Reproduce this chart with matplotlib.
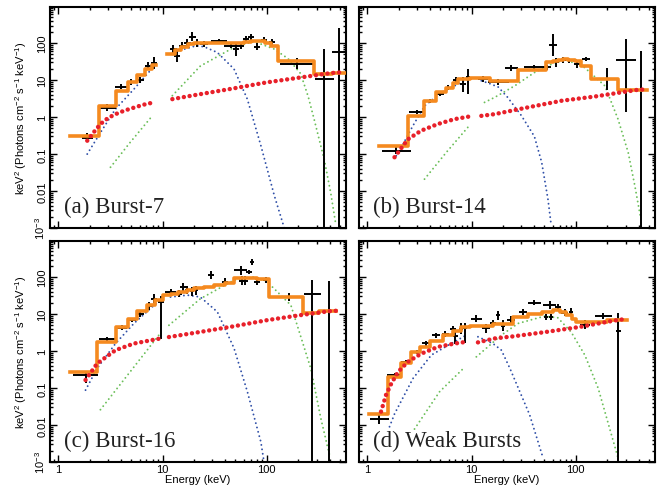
import numpy as np
import matplotlib
matplotlib.use('Agg')
import matplotlib.pyplot as plt
from matplotlib.ticker import LogLocator, NullFormatter

plt.rcParams['font.family'] = 'Liberation Sans'
plt.rcParams['mathtext.fontset'] = 'custom'
plt.rcParams['mathtext.rm'] = 'Liberation Sans'
plt.rcParams['mathtext.it'] = 'Liberation Sans'

# ---------------- (a) Burst-7 ----------------
a_edges = [1.30, 2.44, 3.53, 4.68, 5.71, 6.76, 7.96, 8.57, 11, 13, 15, 17.5, 20, 24, 30, 40,
           50, 60, 70, 80, 95, 110, 127, 282, 425, 575]
a_model = [0.31, 2.0, 5.1, 9.0, 13.7, 19.8, 25, np.nan, 52, 65, 80, 92, 100, 102, 103, 100,
           104, 108, 112, 112, 100, 85, 33, 14.5, 16]
a_e = [1.9, 2.95, 4.0, 5.0, 6.1, 7.3, 8.3, 12.7, 13.8, 15.5, 17.3, 19.3, 21.6, 25, 34.7, 45,
       50.3, 56, 63, 70, 81, 94, 113, 196, 356, 495]
a_f = [0.28, 1.8, 6.7, 8.7, 10.3, 24, 29, 70, 45, 85, 100, 150, 100, 94, 116, 85,
       69, 85, 130, 145, 80, 125, 110, 28, 11, 56]
a_dx = [0.05, 0.08, 0.06, 0.04, 0.04, 0.03, 0.03, 0.03, 0.03, 0.03, 0.03, 0.03, 0.03, 0.04, 0.08, 0.06,
        0.03, 0.03, 0.03, 0.03, 0.03, 0.03, 0.03, 0.17, 0.09, 0.07]
a_up = [0.12, 0.1, 0.06, 0.08, 0.08, 0.1, 0.15, 0.1, 0.15, 0.1, 0.12, 0.12, 0.1, 0.08, 0.06, 0.05,
        0.2, 0.08, 0.08, 0.08, 0.1, 0.08, 0.08, 0.15, 0.8, 0.65]
a_dn = [0.12, 0.1, 0.06, 0.08, 0.08, 0.1, 0.15, 0.1, 0.15, 0.1, 0.12, 0.12, 0.1, 0.08, 0.06, 0.05,
        0.2, 0.08, 0.08, 0.08, 0.1, 0.08, 0.08, 0.15, 5, 5]
a_red_e = [1.89, 2.2, 2.53, 3.0, 3.53, 4.3, 5.3, 6.5, 7.96, 12.4, 20, 48.4, 100, 211, 410, 560]
a_red_f = [0.23, 0.4, 0.65, 0.95, 1.2, 1.5, 1.8, 2.15, 2.45, 3.06, 3.9, 6.0, 8.7, 11.8, 15.5, 16.5]
a_blue_e = [1.89, 2.53, 3.53, 5.3, 8.3, 12.4, 15.3, 21, 25, 33.5, 48.4, 65, 87.6, 118, 147]
a_blue_f = [0.1, 0.38, 1.65, 5.7, 24, 50, 66, 85, 80, 56, 20, 3.06, 0.17, 0.0075, 0.001]
a_green_e = [3.16, 4.9, 7.96, 12.4, 23, 48, 75, 118, 160, 211, 250, 285, 356, 410, 460]
a_green_f = [0.044, 0.21, 1.08, 3.8, 24, 76, 112, 69, 38, 15, 3.5, 0.85, 0.07, 0.009, 0.0012]

# ---------------- (b) Burst-14 ----------------
b_edges = [1.30, 2.44, 3.48, 4.58, 5.63, 6.6, 7.4, 9.55, 14.9, 27.9, 52, 60, 67, 75, 85, 98,
           113, 141, 254, 478]
b_model = [0.168, 1.08, 2.76, 4.65, 6.3, 8.3, 10.5, 11.3, 9.6, 18.7, 30, 33, 36, 37, 36, 33,
           24.5, 10.6, 5.4]
b_e = [1.89, 2.98, 4.0, 4.93, 5.9, 7.1, 8.27, 9.2, 12.9, 18.0, 24, 40, 53, 60.5, 65, 75,
       86, 102, 126, 198, 305, 425]
b_f = [0.123, 1.39, 2.76, 4.18, 6.3, 10.2, 7.8, 11.8, 10.6, 8.7, 20.7, 22, 22, 90, 30, 35,
       34, 27, 37, 10.5, 35.5, 5.5]
b_dx = [0.137, 0.08, 0.05, 0.04, 0.03, 0.03, 0.03, 0.02, 0.05, 0.1, 0.06, 0.1, 0.04, 0.04, 0.03, 0.03,
        0.03, 0.03, 0.04, 0.08, 0.095, 0.0]
b_up = [0.1, 0.06, 0.06, 0.06, 0.07, 0.08, 0.2, 0.23, 0.08, 0.08, 0.08, 0.08, 0.08, 0.3, 0.12, 0.08,
        0.08, 0.1, 0.06, 0.3, 0.55, 1.05]
b_dn = [0.1, 0.06, 0.06, 0.06, 0.07, 0.08, 0.2, 0.45, 0.08, 0.08, 0.08, 0.08, 0.08, 0.3, 0.12, 0.08,
        0.08, 0.1, 0.06, 0.3, 1.4, 5]
b_red_e = [1.82, 2.44, 3.28, 4.75, 6.85, 9.55, 12.4, 16.6, 34.6, 72.6, 152, 397, 470]
b_red_f = [0.082, 0.25, 0.43, 0.65, 0.88, 1.04, 1.08, 1.2, 1.83, 2.76, 3.6, 5.5, 5.6]
b_blue_e = [1.89, 2.11, 2.73, 3.53, 5.1, 7.4, 9.2, 12.4, 15, 18, 22, 30, 40, 47, 54, 58]
b_blue_f = [0.09, 0.15, 0.58, 2.0, 4.6, 7.8, 10.6, 9.6, 8, 6.5, 3.5, 1.1, 0.3, 0.06, 0.006, 0.0012]
b_green_e = [3.53, 5.7, 9.2, 13.3, 16.6, 25.9, 40, 63, 81, 121, 190, 254, 318, 368, 420]
b_green_f = [0.021, 0.11, 0.53, 2.5, 3.4, 7, 16, 30, 35.5, 22, 7, 0.88, 0.11, 0.014, 0.0018]

# ---------------- (c) Burst-16 ----------------
c_edges = [1.30, 2.35, 3.53, 4.68, 5.71, 7.1, 8.4, 10.1, 12, 14, 17, 20, 25, 31, 40, 48.4,
           60, 81, 105, 220, 320, 460]
c_model = [0.277, 1.78, 4.5, 7.6, 12, 17.5, 24, 32.6, 36, 40, 45, 50, 54.5, 62, 70, 92,
           96, 88, 29.3, 10.4, 11.8]
c_e = [1.82, 2.94, 4.1, 5.1, 6.1, 7.4, 8.3, 9.6, 11.9, 14.3, 15.8, 17.3, 19, 21, 28.9, 40,
       56, 58, 62, 67, 72.6, 81, 98, 164, 273, 393]
c_f = [0.224, 2.11, 4.3, 6.9, 9.8, 16.7, 26, 21.5, 40, 36, 54, 45, 42, 44, 113, 74,
       155, 80, 80, 139, 250, 74, 83, 29, 34, 10]
c_dx = [0.12, 0.08, 0.05, 0.04, 0.04, 0.03, 0.03, 0.03, 0.05, 0.03, 0.03, 0.02, 0.02, 0.02, 0.03, 0.03,
        0.065, 0.03, 0.03, 0.03, 0.02, 0.03, 0.03, 0.04, 0.08, 0.0]
c_up = [0.1, 0.06, 0.06, 0.06, 0.08, 0.1, 0.12, 0.15, 0.08, 0.1, 0.1, 0.1, 0.12, 0.12, 0.1, 0.1,
        0.12, 0.12, 0.12, 0.06, 0.08, 0.08, 0.08, 0.12, 0.4, 0.9]
c_dn = [0.2, 0.06, 0.06, 0.06, 0.08, 0.1, 0.12, 1.0, 0.08, 0.1, 0.1, 0.1, 0.12, 0.12, 0.1, 0.1,
        0.12, 0.12, 0.12, 0.06, 0.08, 0.08, 0.08, 0.12, 5, 5]
c_red_e = [1.82, 2.35, 3.53, 5.3, 9.55, 11.5, 23, 48.4, 101.6, 211, 398, 460]
c_red_f = [0.165, 0.46, 1.06, 1.6, 2.2, 2.4, 3.3, 4.7, 6.9, 9.4, 12, 12.3]
c_blue_e = [1.82, 2.35, 3.53, 5.3, 8.3, 10.1, 11.9, 17.3, 23, 33.5, 48.4, 65, 87.6, 94]
c_blue_f = [0.088, 0.34, 1.6, 5.6, 17.5, 26, 29, 32.6, 29, 11.5, 1.2, 0.08, 0.0035, 0.001]
c_green_e = [2.53, 4.9, 9.2, 11.5, 23, 48.4, 75, 101, 170, 264, 330, 398]
c_green_f = [0.026, 0.28, 2.7, 5.0, 26, 83, 101, 74, 17.5, 0.34, 0.015, 0.0016]

# ---------------- (d) Weak Bursts ----------------
d_edges = [1.03, 1.57, 2.11, 2.63, 3.23, 3.95, 5.3, 6.6, 7.96, 9.55, 16, 25, 35, 47, 60, 70,
           80, 92, 100, 200, 307]
d_model = [0.02, 0.2, 0.49, 0.92, 1.3, 1.86, 2.7, 3.5, 4.5, 4.8, 5.5, 8.5, 10, 11.5, 12.8, 11.5,
           9.4, 7.5, 6.2, 7.0]
d_e = [1.30, 1.82, 2.36, 2.98, 3.67, 4.58, 5.6, 6.6, 7.0, 7.96, 8.7, 11.1, 13.8, 16, 17.9, 20,
       24, 31, 40, 56, 52, 58, 67, 78, 90, 122, 184, 256]
d_f = [0.015, 0.224, 0.51, 0.96, 1.61, 2.7, 2.9, 3.9, 2.5, 4.0, 4.1, 7.6, 4.1, 5.6, 9.4, 4.8,
       6.9, 11.5, 20.5, 17.5, 8.5, 8.5, 15.7, 11, 11.5, 5.2, 8.7, 3.4]
d_dx = [0.09, 0.07, 0.05, 0.04, 0.04, 0.04, 0.03, 0.03, 0.02, 0.02, 0.02, 0.05, 0.04, 0.03, 0.02, 0.02,
        0.04, 0.04, 0.06, 0.06, 0.02, 0.02, 0.03, 0.03, 0.02, 0.05, 0.08, 0.025]
d_up = [0.12, 0.06, 0.06, 0.06, 0.06, 0.07, 0.08, 0.1, 0.2, 0.15, 0.15, 0.1, 0.12, 0.1, 0.12, 0.15,
        0.1, 0.08, 0.06, 0.1, 0.08, 0.08, 0.08, 0.1, 0.1, 0.12, 0.08, 0.5]
d_dn = [0.15, 0.06, 0.06, 0.06, 0.06, 0.07, 0.08, 0.1, 0.2, 0.15, 0.4, 0.1, 0.12, 0.1, 0.12, 0.15,
        0.1, 0.08, 0.06, 0.1, 0.08, 0.08, 0.08, 0.1, 0.1, 0.12, 0.08, 5]
d_red_e = [1.35, 1.51, 1.69, 1.96, 2.44, 3.28, 4.75, 6.85, 9.2, 11.5, 16.6, 25, 52, 109, 228, 290]
d_red_f = [0.023, 0.066, 0.13, 0.27, 0.51, 0.85, 1.3, 1.6, 1.8, 1.72, 2.2, 2.5, 3.3, 4.5, 6.6, 7.3]
d_blue_e = [1.63, 1.82, 2.73, 4.1, 6.36, 8.9, 11.5, 16, 19.3, 23.3, 36, 48]
d_blue_f = [0.009, 0.02, 0.18, 0.78, 1.6, 2.7, 2.44, 1.6, 1.06, 0.34, 0.019, 0.0014]
d_green_e = [2.83, 4.93, 8.6, 11.1, 19.3, 27.9, 50, 67, 90, 122, 164, 211, 254]
d_green_f = [0.0078, 0.08, 0.37, 0.7, 2.7, 5.6, 8.8, 8, 3.3, 0.78, 0.098, 0.0081, 0.0013]

labels = ['(a) Burst-7', '(b) Burst-14', '(c) Burst-16', '(d) Weak Bursts']

ORANGE = '#f58a1f'
RED = '#e8202a'
BLUE = '#3050a8'
GREEN = '#6cbf5a'


def comp(ax, e, f, **kw):
    e = np.array(e)
    f = np.array(f)
    for m in (e < 10.5, e >= 10.5):
        ax.plot(e[m], f[m], **kw)


def panel(ax, edges, model, e, f, dx, up, dn, red, blue, green, label):
    e = np.array(e); f = np.array(f)
    dx = np.array(dx); up = np.array(up); dn = np.array(dn)
    comp(ax, blue[0], blue[1], color=BLUE, lw=1.4, ls=(0, (0.01, 2.3)),
         dash_capstyle='round', zorder=2)
    comp(ax, green[0], green[1], color=GREEN, lw=1.4, ls=(0, (0.01, 2.3)),
         dash_capstyle='round', zorder=2)
    ax.errorbar(e, f, xerr=[e - e * 10**-dx, e * 10**dx - e],
                yerr=[f - f * 10**-dn, f * 10**up - f],
                fmt='none', ecolor='black', elinewidth=1.4, capsize=0, zorder=3)
    ax.step(edges, list(model) + [model[-1]], where='post', color=ORANGE, lw=2.6, zorder=4)
    comp(ax, red[0], red[1], color=RED, lw=3.2, ls=(0, (0.01, 1.3)),
         dash_capstyle='round', zorder=5)

    ax.set_xscale('log')
    ax.set_yscale('log')
    ax.set_xlim(0.83, 575)
    ax.set_ylim(1e-3, 950)
    ax.set_xticks([1, 10, 100])
    ax.set_xticklabels(['1', '10', '100'])
    ax.set_yticks([1e-3, 1e-2, 1e-1, 1, 10, 100])
    ax.set_yticklabels(['10$^{-3}$', '0.01', '0.1', '1', '10', '100'])
    ax.xaxis.set_minor_locator(LogLocator(subs=np.arange(2, 10), numticks=100))
    ax.yaxis.set_minor_locator(LogLocator(subs=np.arange(2, 10), numticks=100))
    ax.xaxis.set_minor_formatter(NullFormatter())
    ax.yaxis.set_minor_formatter(NullFormatter())
    ax.tick_params(which='both', direction='in', top=True, right=True, width=1.0,
                   labelsize=8, pad=2)
    ax.tick_params(axis='x', which='both', pad=1.5)
    ax.tick_params(which='major', length=5)
    ax.tick_params(which='minor', length=2.5)
    for lab in ax.get_yticklabels():
        lab.set_rotation(90)
        lab.set_va('center')
    for s in ax.spines.values():
        s.set_linewidth(1.5)
    ax.text(0.047, 0.072, label, transform=ax.transAxes, family='Liberation Serif',
            fontsize=16.5, color='#222222', va='baseline', ha='left')


fig = plt.figure(figsize=(6.59, 4.89), dpi=100)
W, H = 659, 489
boxes = [(50, 8), (359, 8), (50, 242), (359, 242)]
axes = []
for (x0, y0) in boxes:
    axes.append(fig.add_axes([x0 / W, 1 - (y0 + 221) / H, 296 / W, 221 / H]))

panel(axes[0], a_edges, a_model, a_e, a_f, a_dx, a_up, a_dn,
      (a_red_e, a_red_f), (a_blue_e, a_blue_f), (a_green_e, a_green_f), labels[0])
panel(axes[1], b_edges, b_model, b_e, b_f, b_dx, b_up, b_dn,
      (b_red_e, b_red_f), (b_blue_e, b_blue_f), (b_green_e, b_green_f), labels[1])
panel(axes[2], c_edges, c_model, c_e, c_f, c_dx, c_up, c_dn,
      (c_red_e, c_red_f), (c_blue_e, c_blue_f), (c_green_e, c_green_f), labels[2])
panel(axes[3], d_edges, d_model, d_e, d_f, d_dx, d_up, d_dn,
      (d_red_e, d_red_f), (d_blue_e, d_blue_f), (d_green_e, d_green_f), labels[3])

for ax in axes[:2]:
    ax.tick_params(labelbottom=False)
for ax in (axes[1], axes[3]):
    ax.tick_params(labelleft=False)
for ax in (axes[0], axes[2]):
    ax.set_ylabel('keV$^2$ (Photons cm$^{-2}$ s$^{-1}$ keV$^{-1}$)', fontsize=8, labelpad=3)
for ax in axes[2:]:
    ax.set_xlabel('Energy (keV)', fontsize=8, labelpad=0)

fig.savefig('out.png', dpi=100)
